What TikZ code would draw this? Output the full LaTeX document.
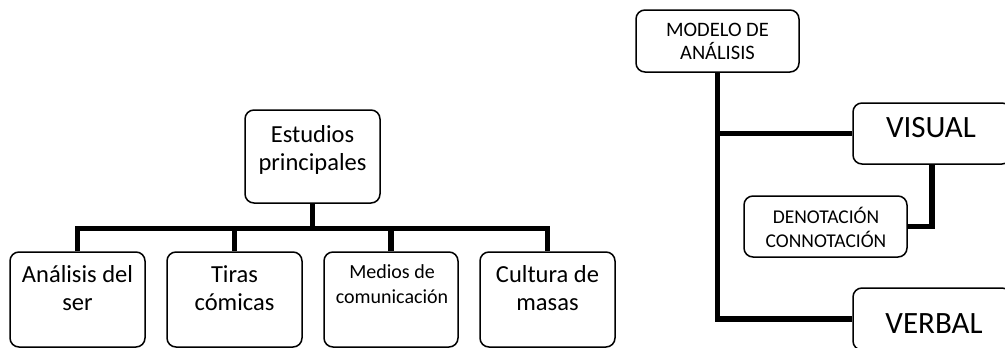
\documentclass[tikz,border=0pt]{standalone}
\usepackage{fontspec}
\setmainfont{Carlito}
\newcommand{\twolines}[2]{\vtop{\halign{\hfil##\hfil\cr#1\cr#2\cr}}}
\begin{document}
\begin{tikzpicture}[x=1pt,y=-1pt,
  box/.style={draw=black, line width=1.5pt, rounded corners=9pt, fill=white, inner sep=0pt},
  txt/.style={anchor=base, inner sep=0pt},
  conn/.style={draw=black, line width=5.5pt, line join=miter},
  big/.style={font=\fontsize{24.5}{28}\selectfont},
  mid/.style={font=\fontsize{20}{25}\selectfont},
  sml/.style={font=\fontsize{20.5}{23.5}\selectfont},
  den/.style={font=\fontsize{19.5}{24.5}\selectfont},
  huge/.style={font=\fontsize{31}{36}\selectfont}]
\useasboundingbox (0,0) rectangle (1005,348);
\fill[white] (0,0) rectangle (1005,348);
\begin{scope}
\clip (0,0) rectangle (1005,348);
% left tree
\node[box,minimum width=135pt,minimum height=93pt] (est) at (312.5,156.5) {};
\node[box,minimum width=135pt,minimum height=95pt] (ana) at (77.5,299.5) {};
\node[box,minimum width=135pt,minimum height=95pt] (tir) at (234.5,299.5) {};
\node[box,minimum width=134pt,minimum height=95pt] (med) at (391,299.5) {};
\node[box,minimum width=135pt,minimum height=95pt] (cul) at (547.5,299.5) {};
\node[txt,big] (estt) at (312.5,142) {\twolines{Estudios}{principales}};
\node[txt,big] (anat) at (77.5,282) {\twolines{Análisis del}{ser}};
\node[txt,big] (tirt) at (234.5,282) {\twolines{Tiras}{cómicas}};
\node[txt,mid] (medt) at (392,278) {\twolines{Medios de}{comunicación}};
\node[txt,big] (cult) at (547.5,282) {\twolines{Cultura de}{masas}};
\draw[conn] (ana.north) -- ++(0,-23) coordinate (bar) -| (cul.north);
\draw[conn] (tir.north) -- (tir.north |- bar);
\draw[conn] (med.north) -- (med.north |- bar);
\draw[conn] (est.south) -- (est.south |- bar);
% right tree
\node[box,minimum width=163pt,minimum height=62pt] (mod) at (717.5,41) {};
\node[box,minimum width=158pt,minimum height=61pt] (vis) at (932,133.5) {};
\node[box,minimum width=163pt,minimum height=61pt] (den) at (825.5,226.5) {};
\node[box,minimum width=158pt,minimum height=62pt] (ver) at (932,319) {};
\node[txt,sml] (modt) at (717.5,36) {\twolines{MODELO DE}{ANÁLISIS}};
\node[txt,huge] (vist) at (931,137) {VISUAL};
\node[txt,den] (dent) at (826,223) {\twolines{DENOTACIÓN}{CONNOTACIÓN}};
\node[txt,huge] (vert) at (934,333) {VERBAL};
\draw[conn] (mod.south) |- (ver.west);
\draw[conn] (mod.south |- vis.west) -- (vis.west);
\draw[conn] (vis.south) |- (den.east);
\end{scope}
\end{tikzpicture}
\end{document}
